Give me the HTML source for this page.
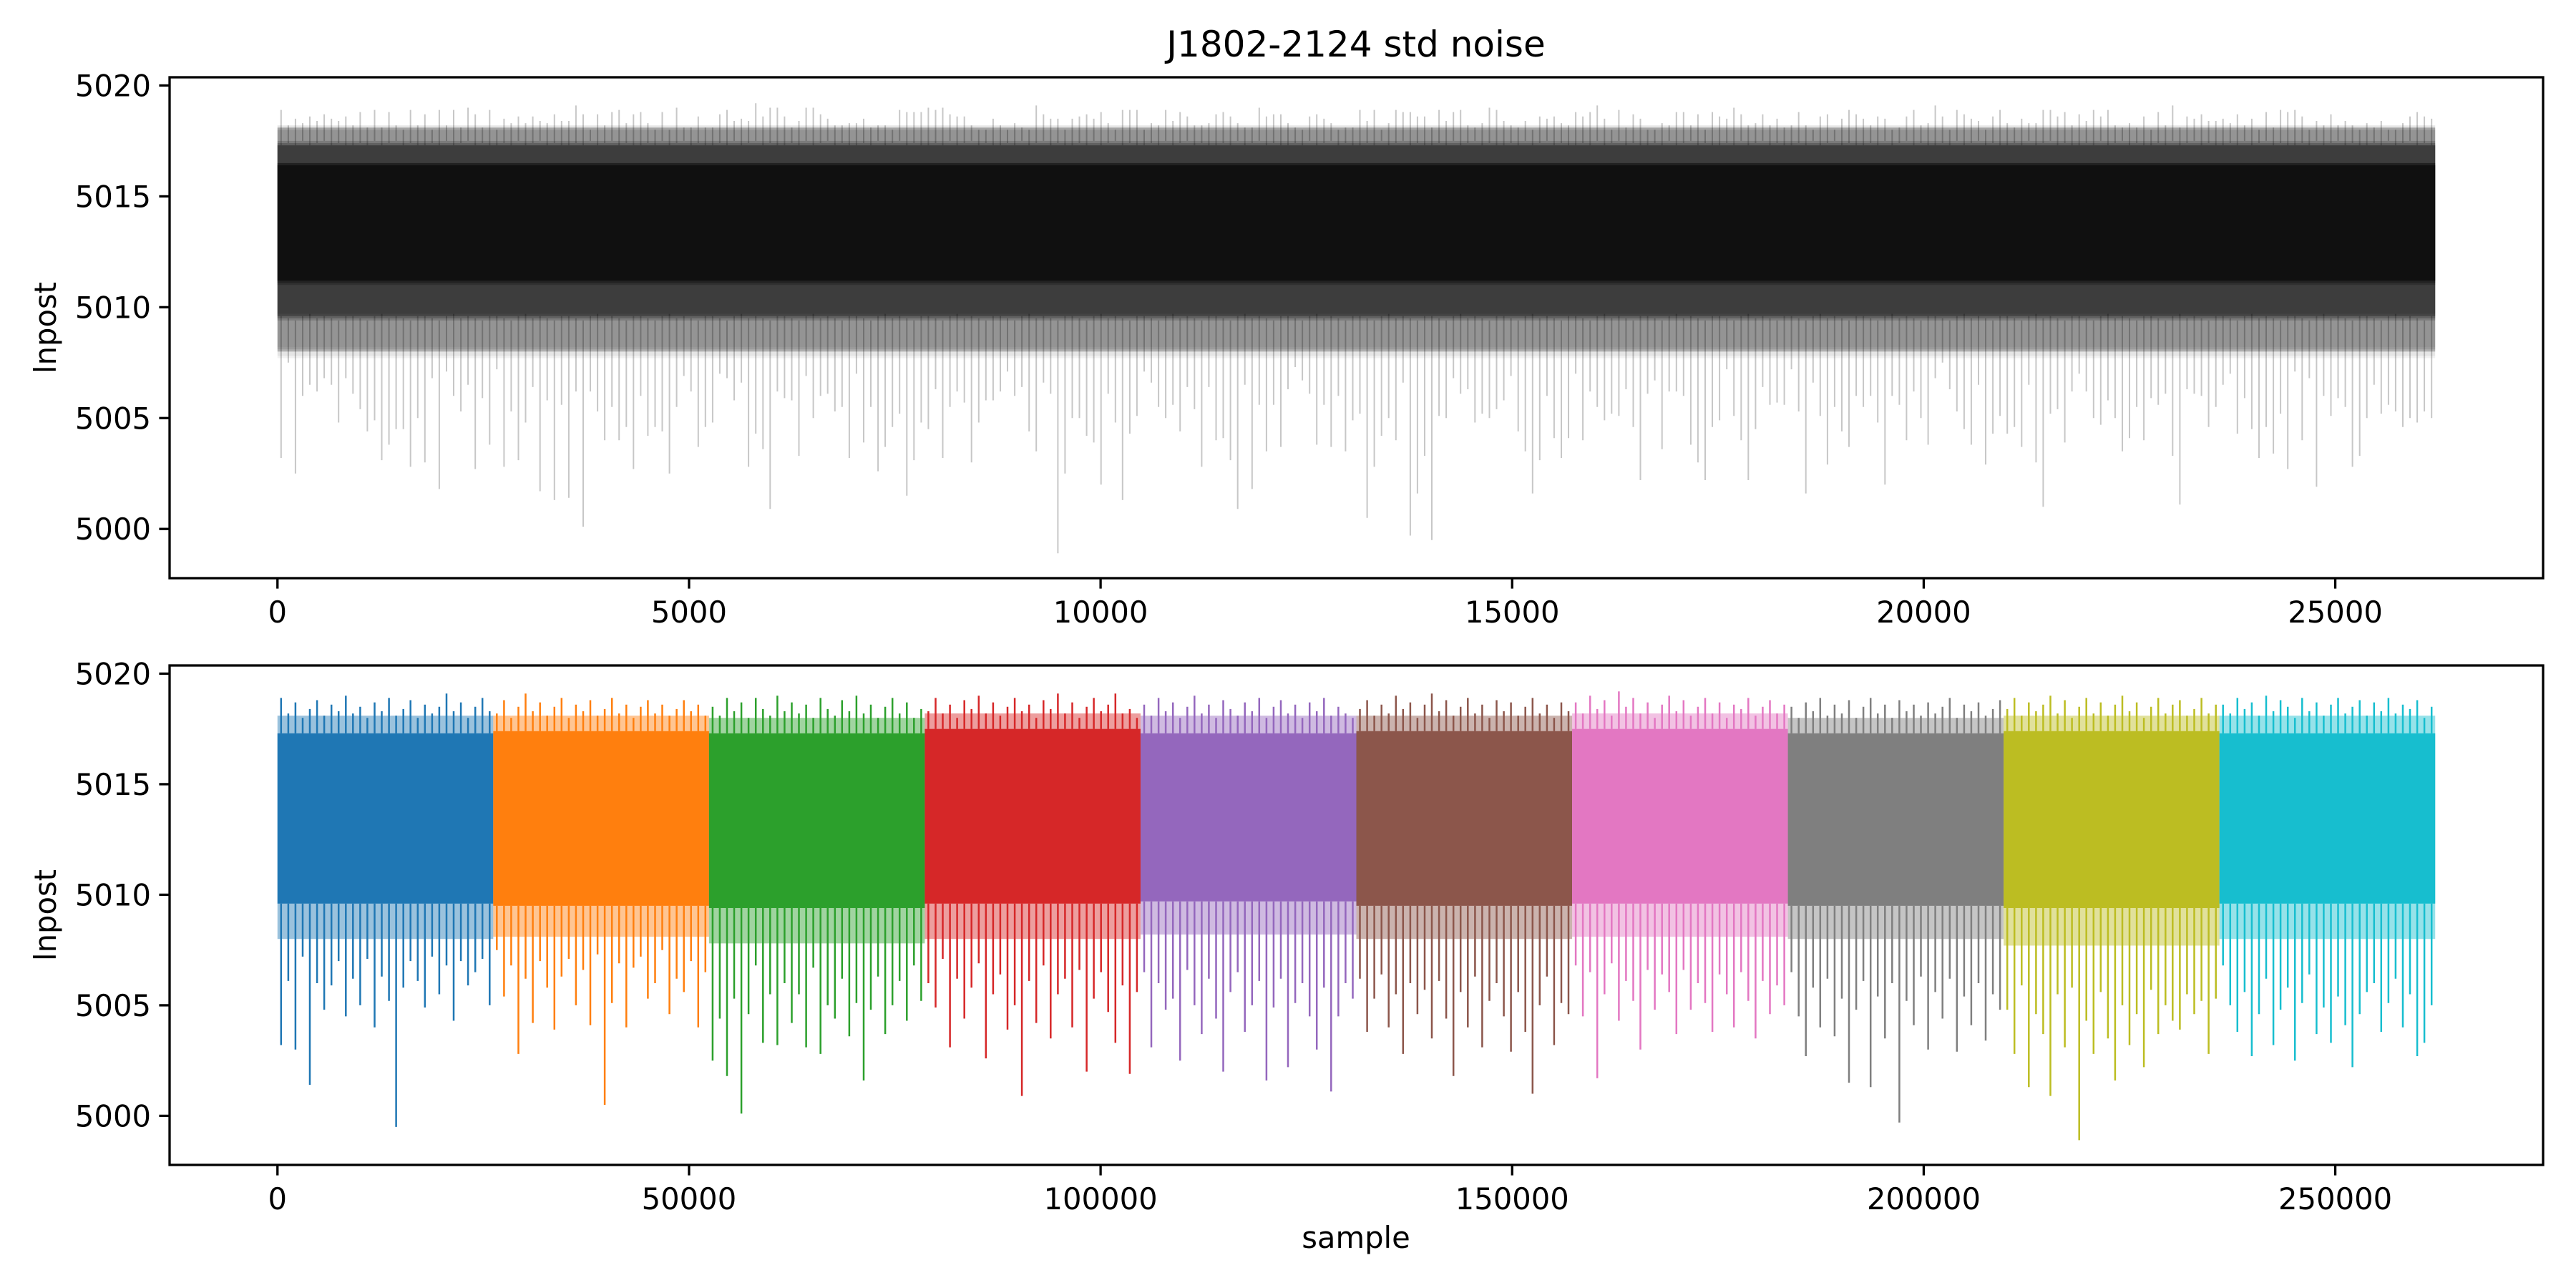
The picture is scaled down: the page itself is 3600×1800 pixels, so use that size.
<!DOCTYPE html>
<html><head><meta charset="utf-8"><style>
html,body{margin:0;padding:0;background:#fff;}
svg{display:block;font-family:"DejaVu Sans","Liberation Sans",sans-serif;}
</style></head><body>
<svg id="fig" width="3600" height="1800" viewBox="0 0 3600 1800" xmlns="http://www.w3.org/2000/svg">
<rect width="3600" height="1800" fill="#fff"/>
<text x="1895" y="79" font-size="50" text-anchor="middle">J1802-2124 std noise</text>
<g id="top"></g>
<g id="bot"></g>
<text x="1895" y="1744" font-size="41.7" text-anchor="middle">sample</text>
</svg>
<script>
const chainLen = 26214;
const colors = ["#1f77b4","#ff7f0e","#2ca02c","#d62728","#9467bd","#8c564b","#e377c2","#7f7f7f","#bcbd22","#17becf"];
const coreLo = [5009.6,5009.5,5009.4,5009.6,5009.7,5009.5,5009.6,5009.5,5009.4,5009.6];
const coreHi = [5017.3,5017.4,5017.3,5017.5,5017.3,5017.4,5017.5,5017.3,5017.4,5017.3];
const fringeLo = [5008.0,5008.1,5007.8,5008.0,5008.2,5008.0,5008.1,5008.0,5007.7,5008.0];
const fringeHi = [5018.1,5018.1,5018.0,5018.2,5018.1,5018.1,5018.2,5018.0,5018.1,5018.1];
const innerLo = [5011.2,5011.1,5011.0,5011.2,5011.2,5011.1,5011.2,5011.1,5011.0,5011.2];
const innerHi = [5016.4,5016.5,5016.4,5016.5,5016.4,5016.5,5016.5,5016.4,5016.5,5016.4];
const binMins = [
[5003.2,5006.1,5003.0,5007.2,5001.4,5006.0,5004.8,5005.9,5007.0,5004.5,5006.2,5005.0,5007.1,5004.0,5006.3,5005.2,4999.5,5005.8,5007.0,5006.1,5004.9,5007.2,5005.5,5006.8,5004.3,5007.0,5005.9,5006.5,5007.1,5005.0],
[5007.5,5005.4,5006.8,5002.8,5006.2,5004.2,5007.0,5005.8,5003.9,5006.3,5007.1,5005.0,5006.6,5004.1,5007.3,5000.5,5005.1,5006.9,5004.0,5006.7,5007.2,5005.3,5006.0,5007.5,5004.6,5006.2,5005.6,5007.0,5004.0,5006.5],
[5002.5,5004.4,5001.8,5005.3,5000.1,5004.6,5006.8,5003.3,5005.5,5003.2,5006.0,5004.2,5005.5,5003.1,5006.7,5002.8,5005.0,5004.4,5006.2,5003.6,5005.1,5001.6,5004.8,5006.3,5003.7,5005.0,5006.1,5004.3,5006.8,5005.2],
[5006.0,5004.9,5007.1,5003.1,5006.2,5004.4,5005.8,5006.9,5002.6,5005.5,5006.4,5003.9,5005.0,5000.9,5006.1,5004.2,5006.8,5003.5,5005.5,5006.2,5004.0,5006.6,5002.0,5005.3,5006.5,5004.7,5003.3,5005.9,5001.9,5005.6],
[5006.5,5003.1,5006.0,5004.8,5005.3,5002.5,5006.6,5005.0,5003.7,5006.2,5004.4,5002.0,5005.6,5006.5,5003.8,5005.0,5006.1,5001.6,5004.9,5006.2,5002.2,5005.1,5006.0,5004.5,5003.0,5005.8,5001.1,5004.5,5006.0,5005.3],
[5006.2,5003.8,5005.3,5006.4,5004.0,5005.5,5002.8,5006.0,5004.6,5005.7,5003.5,5006.1,5004.4,5001.8,5005.6,5004.0,5006.3,5003.1,5005.2,5006.0,5004.5,5002.9,5005.6,5003.8,5001.0,5005.0,5006.3,5003.2,5005.1,5004.6],
[5006.8,5004.5,5006.5,5001.7,5005.5,5006.9,5004.3,5006.1,5005.2,5003.0,5006.6,5004.8,5006.4,5005.6,5003.7,5006.6,5004.8,5006.0,5005.1,5003.8,5006.4,5005.5,5004.0,5006.5,5005.2,5003.5,5006.1,5004.6,5005.9,5005.0],
[5006.5,5004.5,5002.7,5005.8,5004.0,5006.2,5003.6,5005.3,5001.5,5004.8,5006.1,5001.3,5005.4,5003.5,5006.0,4999.7,5005.2,5004.1,5006.3,5003.0,5005.6,5004.4,5006.2,5002.9,5005.4,5004.1,5006.0,5003.4,5005.5,5004.8],
[5004.8,5002.8,5005.9,5001.3,5004.6,5003.7,5000.9,5005.5,5003.1,5005.8,4998.9,5004.3,5002.8,5005.6,5003.5,5001.6,5005.0,5003.2,5004.6,5002.2,5005.7,5003.7,5005.0,5004.3,5003.9,5005.5,5004.6,5005.2,5002.8,5005.3],
[5006.8,5005.0,5003.8,5005.6,5002.7,5004.6,5006.2,5003.2,5004.8,5005.8,5002.5,5005.1,5006.4,5003.7,5004.9,5003.3,5005.4,5004.1,5002.2,5004.6,5005.6,5006.0,5003.8,5005.1,5006.2,5004.0,5005.5,5002.7,5003.3,5005.0]
];
const binMaxs = [
[5018.9,5018.2,5018.7,5018.0,5018.4,5018.8,5018.1,5018.6,5018.3,5019.0,5018.2,5018.5,5018.0,5018.7,5018.3,5018.9,5018.1,5018.4,5018.8,5018.0,5018.6,5018.2,5018.5,5019.1,5018.3,5018.7,5018.0,5018.5,5018.9,5018.3],
[5018.2,5018.8,5018.0,5018.5,5019.1,5018.3,5018.7,5018.1,5018.5,5018.9,5018.0,5018.6,5018.3,5018.8,5018.1,5018.4,5018.9,5018.2,5018.6,5018.0,5018.5,5018.8,5018.2,5018.6,5018.1,5018.4,5018.8,5018.3,5018.6,5018.1],
[5018.5,5018.1,5018.9,5018.3,5018.7,5018.0,5018.9,5018.4,5018.1,5019.0,5018.3,5018.7,5018.2,5018.6,5018.0,5018.9,5018.4,5018.1,5018.8,5018.3,5019.0,5018.2,5018.6,5018.0,5018.5,5018.9,5018.2,5018.7,5018.0,5018.4],
[5018.3,5018.9,5018.2,5018.6,5018.0,5018.8,5018.4,5019.0,5018.2,5018.7,5018.1,5018.5,5018.9,5018.3,5018.6,5018.0,5018.8,5018.4,5019.1,5018.2,5018.7,5018.0,5018.5,5018.9,5018.3,5018.6,5019.1,5018.2,5018.4,5018.0],
[5018.6,5018.1,5018.9,5018.3,5018.7,5018.0,5018.5,5019.0,5018.2,5018.6,5018.0,5018.8,5018.4,5018.1,5018.7,5018.3,5018.9,5018.0,5018.5,5018.8,5018.2,5018.6,5018.0,5018.7,5018.3,5018.9,5018.1,5018.5,5018.2,5018.0],
[5018.4,5018.8,5018.1,5018.6,5018.2,5019.0,5018.4,5018.7,5018.0,5018.6,5019.1,5018.3,5018.8,5018.1,5018.5,5018.9,5018.2,5018.6,5018.0,5018.8,5018.3,5018.7,5018.1,5018.5,5018.9,5018.2,5018.6,5018.0,5018.7,5018.3],
[5018.7,5018.2,5019.0,5018.4,5018.8,5018.1,5019.2,5018.5,5018.9,5018.2,5018.7,5018.0,5018.6,5019.0,5018.3,5018.8,5018.1,5018.5,5018.9,5018.2,5018.7,5018.0,5018.6,5018.4,5018.9,5018.1,5018.5,5018.8,5018.2,5018.6],
[5018.5,5018.0,5018.7,5018.3,5018.9,5018.1,5018.6,5018.2,5018.8,5018.0,5018.5,5018.9,5018.2,5018.6,5018.0,5018.8,5018.3,5018.6,5018.1,5018.7,5018.2,5018.5,5018.9,5018.0,5018.6,5018.3,5018.7,5018.1,5018.4,5018.8],
[5018.4,5018.9,5018.1,5018.7,5018.3,5018.6,5019.0,5018.2,5018.8,5018.0,5018.5,5018.9,5018.2,5018.7,5018.1,5018.6,5019.0,5018.3,5018.7,5018.0,5018.5,5018.9,5018.2,5018.6,5018.8,5018.1,5018.4,5018.9,5018.2,5018.6],
[5018.6,5018.2,5018.9,5018.4,5018.7,5018.1,5019.0,5018.3,5018.8,5018.5,5018.0,5018.9,5018.3,5018.7,5018.1,5018.6,5018.9,5018.2,5018.5,5018.8,5018.1,5018.7,5018.3,5018.9,5018.2,5018.6,5018.4,5018.8,5018.0,5018.5]
];
const yTicks = [5000,5005,5010,5015,5020];
const xTicksTop = [0,5000,10000,15000,20000,25000];
const xTicksBot = [0,50000,100000,150000,200000,250000];
const yLim = [4997.78, 5020.37];

const NS = "http://www.w3.org/2000/svg";
function mk(parent, tag, attrs){const e=document.createElementNS(NS,tag);for(const k in attrs)e.setAttribute(k,attrs[k]);parent.appendChild(e);return e;}

function panel(g, top, bottom, xmax, xTicks, mode){
  const L=237, R=3554;
  const xspan = xmax*1.1, x0 = -xmax*0.05;
  const sx = v => L + (v - x0)/xspan*(R-L);
  const sy = v => bottom - (v - yLim[0])/(yLim[1]-yLim[0])*(bottom-top);
  const nC = binMins.length;
  for(let c=0;c<nC;c++){
    const offset = mode==='bot' ? c*chainLen : 0;
    const color = mode==='bot' ? colors[c] : '#000';
    const xa = sx(offset), xb = sx(offset+chainLen);
    const fr = mk(g,'rect',{x:xa,y:sy(fringeHi[c]),width:xb-xa,height:sy(fringeLo[c])-sy(fringeHi[c]),fill:color,'fill-opacity':mode==='bot'?0.45:0.05});
    
    
    const band = mk(g,'rect',{x:xa,y:sy(coreHi[c]),width:xb-xa,height:sy(coreLo[c])-sy(coreHi[c]),fill:color,'fill-opacity':mode==='bot'?1:0.08});
    
    
    if(mode==='top'){
      const inner = mk(g,'rect',{x:xa,y:sy(innerHi[c]),width:xb-xa,height:sy(innerLo[c])-sy(innerHi[c]),fill:'#000','fill-opacity':0.11});
      
      
    }
    const nb = binMins[c].length;
    const shift = mode==='top' ? (c+0.5)/nC : 0.5;
    let d='';
    for(let b=0;b<nb;b++){
      const xv = sx(offset + (b+shift)/nb*chainLen);
      d += 'M'+xv.toFixed(1)+' '+sy(coreHi[c]).toFixed(1)+'V'+sy(binMaxs[c][b]).toFixed(1);
      d += 'M'+xv.toFixed(1)+' '+sy(coreLo[c]).toFixed(1)+'V'+sy(binMins[c][b]).toFixed(1);
    }
    const p = mk(g,'path',{d:d,stroke:color,'stroke-width':mode==='bot'?2.5:2,'stroke-opacity':mode==='bot'?1:0.22,fill:'none'});
    
    
  }
  const frame = mk(g,'rect',{x:L,y:top,width:R-L,height:bottom-top,fill:'none',stroke:'#000','stroke-width':3.3});
  
  
  yTicks.forEach(v=>{
    const y=sy(v);
    const t=mk(g,'line',{x1:L,x2:L-14.6,y1:y,y2:y,stroke:'#000','stroke-width':3.3});
    
    
    const tx=mk(g,'text',{x:L-26,y:y+15,'font-size':41.7,'text-anchor':'end'});
    tx.textContent=v;
    
    
  });
  xTicks.forEach(v=>{
    const x=sx(v);
    const t=mk(g,'line',{x1:x,x2:x,y1:bottom,y2:bottom+14.6,stroke:'#000','stroke-width':3.3});
    
    
    const tx=mk(g,'text',{x:x,y:bottom+62,'font-size':41.7,'text-anchor':'middle'});
    tx.textContent=v;
    
    
  });
  const yl=mk(g,'text',{x:0,y:0,'font-size':41.7,'text-anchor':'middle',transform:'translate(78,'+((top+bottom)/2)+') rotate(-90)'});
  yl.textContent='lnpost';
  
  
}
panel(document.getElementById('top'),108,808,chainLen,xTicksTop,'top');
panel(document.getElementById('bot'),930,1628,chainLen*binMins.length,xTicksBot,'bot');
</script>
</body></html>
